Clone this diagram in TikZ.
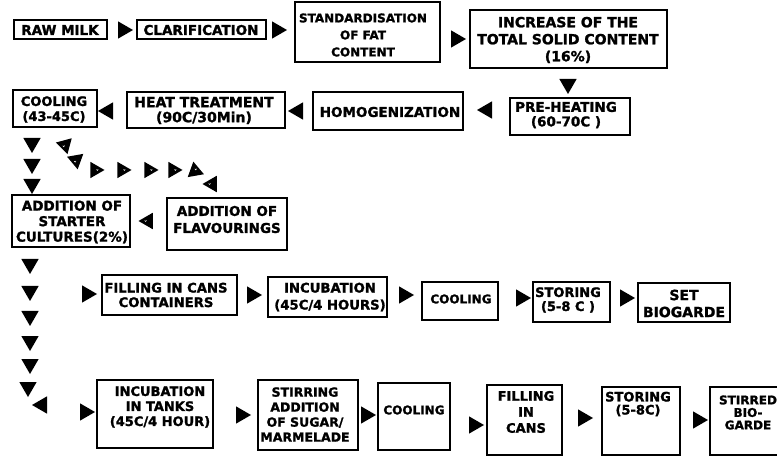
\documentclass[tikz,border=0pt]{standalone}
\usepackage{fontspec}
\setmainfont{DejaVu Sans}[BoldFeatures={FakeBold=1.5}]
\usetikzlibrary{shapes.geometric}
\begin{document}
\begin{tikzpicture}[x=1pt,y=-1pt,
  box/.style={draw=black, line width=1.3pt, inner sep=0pt},
  txt/.style={font=\bfseries\fontsize{13.5}{16}\selectfont, align=center, inner sep=0pt},
  tri/.style={regular polygon, regular polygon sides=3, fill=black, inner sep=0pt, minimum size=20pt},
  hat/.style={tri, minimum size=19pt, path picture={\draw[white, line width=0.5pt] ([shift={(-1,-0.5)}]path picture bounding box.center) -- ++(1,1) -- ++(0.8,-1.2);}},
  rt/.style={tri, shape border rotate=-90},
  lt/.style={tri, shape border rotate=90},
  dn/.style={tri, shape border rotate=180}
]
\useasboundingbox (0,0) rectangle (777,457);
\begin{scope}
\clip (0,0) rectangle (777,457);
% ---------- boxes ----------
\node[box, minimum width=93pt,  minimum height=19pt] (raw)     at (60.5,29.5) {};
\node[box, minimum width=129pt, minimum height=19pt] (clar)    at (201.5,29.5) {};
\node[box, minimum width=145pt, minimum height=60pt] (std)     at (367.5,32) {};
\node[box, minimum width=197pt, minimum height=58pt] (inc)     at (568.5,39) {};
\node[box, minimum width=120pt, minimum height=37pt] (pre)     at (570,116.5) {};
\node[box, minimum width=150pt, minimum height=38pt] (homo)    at (388,111) {};
\node[box, minimum width=158pt, minimum height=36pt] (heat)    at (206,110) {};
\node[box, minimum width=84pt,  minimum height=37pt] (cool1)   at (55,108.5) {};
\node[box, minimum width=118pt, minimum height=52pt] (starter) at (71,221) {};
\node[box, minimum width=120pt, minimum height=52pt] (flav)    at (227,224) {};
\node[box, minimum width=135pt, minimum height=40pt] (fill1)   at (169.5,295) {};
\node[box, minimum width=119pt, minimum height=40pt] (incub1)  at (327.5,297) {};
\node[box, minimum width=76pt,  minimum height=38pt] (cool2)   at (460,301) {};
\node[box, minimum width=77pt,  minimum height=40pt] (stor1)   at (571.5,302) {};
\node[box, minimum width=92pt,  minimum height=39pt] (set)     at (684,302.5) {};
\node[box, minimum width=116pt, minimum height=68pt] (incub2)  at (155,414) {};
\node[box, minimum width=100pt, minimum height=70pt] (stir)    at (308,415) {};
\node[box, minimum width=72pt,  minimum height=67pt] (cool3)   at (414,416.5) {};
\node[box, minimum width=75pt,  minimum height=70pt] (fill2)   at (524.5,420) {};
\node[box, minimum width=78pt,  minimum height=68pt] (stor2)   at (641,421) {};
\node[box, minimum width=80pt,  minimum height=68pt] (stirred) at (750,421) {};
% ---------- texts ----------
\node[txt] (rawT) at (60,30) {RAW MILK};
\node[txt] (clarT) at (201,30) {CLARIFICATION};
\node[txt, font=\bfseries\fontsize{12}{17}\selectfont] (stdT) at (363,35) {STANDARDISATION\\OF FAT\\CONTENT};
\node[txt, font=\bfseries\fontsize{14}{17}\selectfont] (incT) at (568,40) {INCREASE OF THE\\TOTAL SOLID CONTENT\\(16\%)};
\node[txt, font=\bfseries\fontsize{13.5}{14.5}\selectfont] (preT) at (566,115) {PRE-HEATING\\(60-70C )};
\node[txt] (homoT) at (390,112) {HOMOGENIZATION};
\node[txt, font=\bfseries\fontsize{14}{15}\selectfont] (heatT) at (204,110.5) {HEAT TREATMENT\\(90C/30Min)};
\node[txt, font=\bfseries\fontsize{13}{15}\selectfont] (cool1T) at (54,109.5) {COOLING\\(43-45C)};
\node[txt, font=\bfseries\fontsize{13.5}{15.5}\selectfont] (starterT) at (72,222) {ADDITION OF\\STARTER\\CULTURES(2\%)};
\node[txt, font=\bfseries\fontsize{13.5}{17}\selectfont] (flavT) at (227,219.5) {ADDITION OF\\FLAVOURINGS};
\node[txt, font=\bfseries\fontsize{13.2}{14.5}\selectfont] (fill1T) at (166,295) {FILLING IN CANS\\CONTAINERS};
\node[txt, font=\bfseries\fontsize{13.2}{17}\selectfont] (incub1T) at (330,297) {INCUBATION\\(45C/4 HOURS)};
\node[txt, font=\bfseries\fontsize{12}{15}\selectfont] (cool2T) at (461,299) {COOLING};
\node[txt, font=\bfseries\fontsize{13}{14}\selectfont] (stor1T) at (568,300) {STORING\\(5-8 C )};
\node[txt, font=\bfseries\fontsize{14}{17}\selectfont] (setT) at (684,303.5) {SET\\BIOGARDE};
\node[txt, font=\bfseries\fontsize{13}{15}\selectfont] (incub2T) at (160,407) {INCUBATION\\IN TANKS\\(45C/4 HOUR)};
\node[txt, font=\bfseries\fontsize{12.5}{15}\selectfont] (stirT) at (305,414.5) {STIRRING\\ADDITION\\OF SUGAR/\\MARMELADE};
\node[txt, font=\bfseries\fontsize{12}{15}\selectfont] (cool3T) at (414,410) {COOLING};
\node[txt, font=\bfseries\fontsize{13}{16}\selectfont] (fill2T) at (526,412) {FILLING\\IN\\CANS};
\node[txt, font=\bfseries\fontsize{13}{13}\selectfont] (stor2T) at (638,404) {STORING\\(5-8C)};
\node[txt, font=\bfseries\fontsize{12}{12.5}\selectfont] (stirredT) at (748,412.5) {STIRRED\\BIO-\\GARDE};
% ---------- solid arrows ----------
\node[rt] (a1) at (123,30) {};
\node[rt] (a2) at (277,30) {};
\node[rt] (a3) at (456,39) {};
\node[dn] (a4) at (568,84) {};
\node[lt] (a5) at (487,110) {};
\node[lt] (a6) at (298,111) {};
\node[lt] (a7) at (108,111) {};
\node[dn] (c1) at (32,143) {};
\node[dn] (c2) at (32,164) {};
\node[dn] (c3) at (32,184) {};
\node[dn] (d1) at (30,264) {};
\node[dn] (d2) at (30,291) {};
\node[dn] (d3) at (30,316) {};
\node[dn] (d4) at (30,341) {};
\node[dn] (d5) at (30,364) {};
\node[dn] (d6) at (28,387) {};
\node[lt] (d7) at (42,405) {};
\node[rt] (b1) at (87,294) {};
\node[rt] (b2) at (252,295) {};
\node[rt] (b3) at (404,295) {};
\node[rt] (b4) at (521,298) {};
\node[rt] (b5) at (625,298) {};
\node[rt] (e1) at (85,412) {};
\node[rt] (e2) at (241,415) {};
\node[rt] (e3) at (366,415) {};
\node[rt] (e4) at (474,425) {};
\node[rt] (e5) at (583,418) {};
\node[rt] (e6) at (698,420) {};
% ---------- hatched arrows ----------
\node[hat, shape border rotate=195] (h1) at (65,145) {};
\node[hat, shape border rotate=70] (h2) at (76,160) {};
\node[hat, shape border rotate=30] (h3) at (95,170) {};
\node[hat, shape border rotate=-90] (h4) at (122,170) {};
\node[hat, shape border rotate=-90] (h5) at (149,170) {};
\node[hat, shape border rotate=-90] (h6) at (173,170) {};
\node[hat, shape border rotate=-110] (h7) at (195,171) {};
\node[hat, shape border rotate=90] (h8) at (212,184) {};
\node[hat, shape border rotate=90] (h9) at (148,221) {};
\end{scope}
\end{tikzpicture}
\end{document}
